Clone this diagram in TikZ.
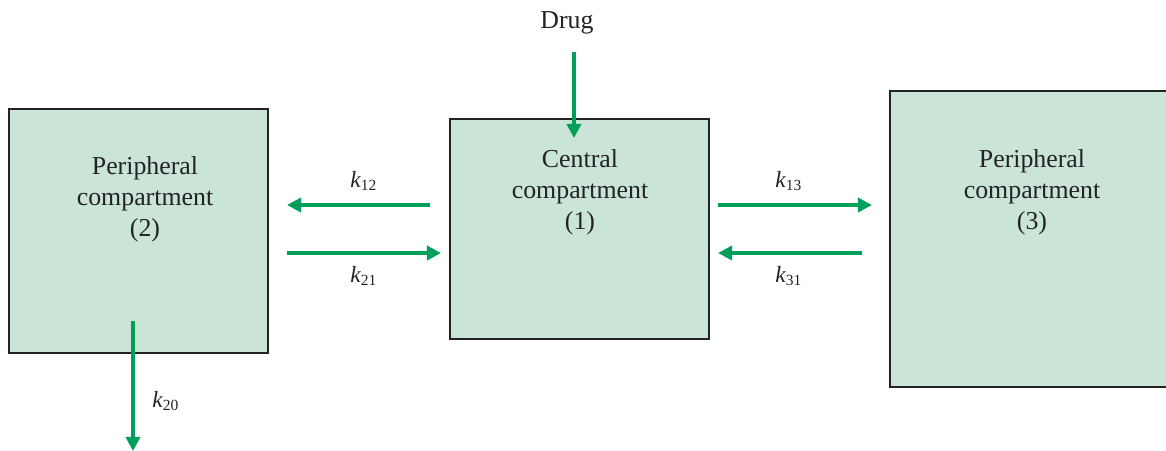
\documentclass[tikz,border=0pt]{standalone}
\usepackage{fontspec}
\setmainfont{Liberation Serif}
\usetikzlibrary{arrows.meta}
\definecolor{flowgreen}{RGB}{0,160,92}
\definecolor{boxfill}{RGB}{202,228,216}
\definecolor{boxline}{RGB}{35,35,35}
\tikzstyle{flow} = [draw=flowgreen,line width=1.5pt,-{Triangle[length=5.5pt,width=5.5pt]}]
\tikzstyle{comp} = [draw=boxline,fill=boxfill,line width=0.8pt,inner sep=0pt]

\begin{document}
\begin{tikzpicture}[x=0.387pt,y=-0.387pt,txt/.style={align=center,inner sep=0pt,text=boxline},rate/.style={inner sep=0pt,text=boxline,font=\small}]
\useasboundingbox (0,0) rectangle (1166,450);
\clip (0,0) rectangle (1166,450);
\node [comp,minimum width=100.2pt,minimum height=94.4pt] (c2) at (138.5,231) {};
\node [comp,minimum width=100.2pt,minimum height=85.1pt] (c1) at (579.5,229) {};
\node [comp,minimum width=112.2pt,minimum height=114.6pt] (c3) at (1035,239) {};
\node [txt] (t2) at (145,199) {Peripheral\\compartment\\(2)};
\node [txt] (t1) at (580,192) {Central\\compartment\\(1)};
\node [txt] (t3) at (1032,192) {Peripheral\\compartment\\(3)};
\node [txt] (drug) at (567,23) {Drug};
\coordinate (d0) at (574,52);
\coordinate (d1) at (574,138);
\draw [flow] (d0) -- (d1);
\coordinate (a12) at (430,205);
\coordinate (b12) at (287,205);
\draw [flow] (a12) -- (b12);
\coordinate (a21) at (287,253);
\coordinate (b21) at (441,253);
\draw [flow] (a21) -- (b21);
\coordinate (a13) at (718,205);
\coordinate (b13) at (872,205);
\draw [flow] (a13) -- (b13);
\coordinate (a31) at (862,253);
\coordinate (b31) at (718,253);
\draw [flow] (a31) -- (b31);
\coordinate (a20) at (133,321);
\coordinate (b20) at (133,451);
\draw [flow] (a20) -- (b20);
\node [rate] (k12) at (364,181) {\itshape k\textsubscript{\upshape 12}};
\node [rate] (k21) at (364,276) {\itshape k\textsubscript{\upshape 21}};
\node [rate] (k13) at (789,181) {\itshape k\textsubscript{\upshape 13}};
\node [rate] (k31) at (789,276) {\itshape k\textsubscript{\upshape 31}};
\node [rate] (k20) at (166,401) {\itshape k\textsubscript{\upshape 20}};
\end{tikzpicture}
\end{document}
